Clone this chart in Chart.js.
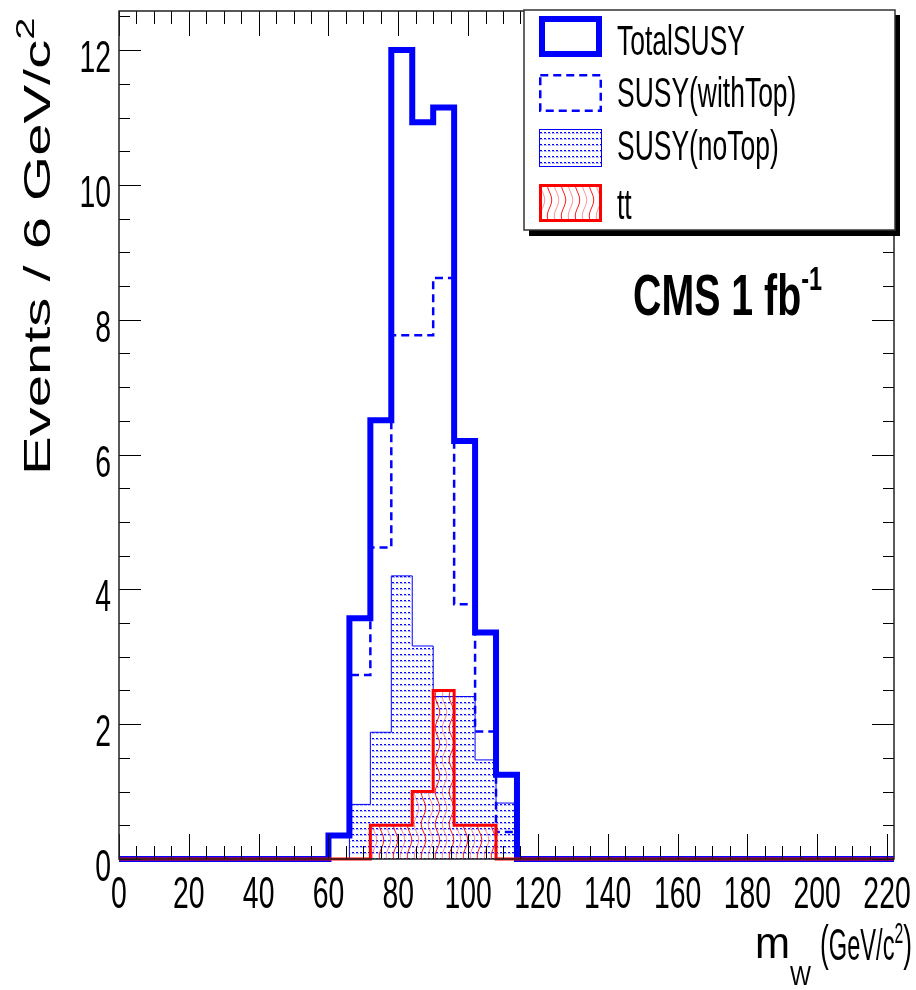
<!DOCTYPE html>
<html>
<head>
<meta charset="utf-8">
<title>m_W CMS 1 fb-1</title>
<script src="https://cdn.jsdelivr.net/npm/chart.js@4.4.1/dist/chart.umd.min.js"></script>
<style>
  html, body { margin: 0; padding: 0; background: #fff; }
  #wrap { position: relative; width: 916px; height: 990px; }
</style>
</head>
<body>
<div id="wrap"><canvas id="mwChart" width="916" height="990"></canvas></div>
<script>
// ── data: 6 GeV/c^2 bins, 0..222 ─────────────────────────────
const binWidth = 6;
const binLow = [0, 6, 12, 18, 24, 30, 36, 42, 48, 54, 60, 66, 72, 78, 84, 90, 96, 102, 108,
  114, 120, 126, 132, 138, 144, 150, 156, 162, 168, 174, 180, 186, 192, 198, 204, 210, 216];

const totalSusy = [0, 0, 0, 0, 0, 0, 0, 0, 0, 0,
  0.35, 3.57, 6.51, 12.0, 10.93, 11.15, 6.2, 3.36, 1.25,
  0, 0, 0, 0, 0, 0, 0, 0, 0, 0, 0, 0, 0, 0, 0, 0, 0, 0];
const susyWithTop = [0, 0, 0, 0, 0, 0, 0, 0, 0, 0,
  0.35, 2.73, 4.62, 7.77, 7.77, 8.62, 3.78, 1.89, 0.4,
  0, 0, 0, 0, 0, 0, 0, 0, 0, 0, 0, 0, 0, 0, 0, 0, 0, 0];
const susyNoTop = [0, 0, 0, 0, 0, 0, 0, 0, 0, 0,
  0, 0.81, 1.88, 4.2, 3.16, 2.41, 2.41, 1.47, 0.83,
  0, 0, 0, 0, 0, 0, 0, 0, 0, 0, 0, 0, 0, 0, 0, 0, 0, 0];
const ttbar = [0, 0, 0, 0, 0, 0, 0, 0, 0, 0,
  0, 0, 0.5, 0.5, 1.0, 2.5, 0.5, 0.5, 0,
  0, 0, 0, 0, 0, 0, 0, 0, 0, 0, 0, 0, 0, 0, 0, 0, 0, 0];

const xTickValues = [0, 20, 40, 60, 80, 100, 120, 140, 160, 180, 200, 220];
const xTickLabels = ['0', '20', '40', '60', '80', '100', '120', '140', '160', '180', '200', '220'];
const yTickValues = [0, 2, 4, 6, 8, 10, 12];
const yTickLabels = ['0', '2', '4', '6', '8', '10', '12'];

const FONT = '"Liberation Sans", Arial, Helvetica, sans-serif';
const BLUE = '#0000ff';
const RED = '#ff0000';

// step histogram: one point per low edge + closing point at the last high edge
function histPoints(vals) {
  const pts = vals.map((v, i) => ({ x: binLow[i], y: v }));
  pts.push({ x: binLow[binLow.length - 1] + binWidth, y: vals[vals.length - 1] });
  return pts;
}

// ── fill patterns (ROOT-ish hatches) ─────────────────────────
function dotPattern(ctx) {
  const c = document.createElement('canvas');
  c.width = 4; c.height = 6;
  const g = c.getContext('2d');
  g.fillStyle = BLUE;
  g.fillRect(0, 0, 2, 1);
  g.fillStyle = 'rgba(0,0,255,0.3)';
  g.fillRect(0, 1, 3, 1);
  return ctx.createPattern(c, 'repeat');
}
function wavePattern(ctx) {
  const c = document.createElement('canvas');
  c.width = 14; c.height = 32;
  const g = c.getContext('2d');
  g.lineWidth = 1;
  [[3.5, 'rgba(255,0,0,0.9)'], [10.5, 'rgba(255,60,60,0.55)']].forEach(([x0, col]) => {
    g.strokeStyle = col;
    g.beginPath();
    for (let y = 0; y <= 32; y++) {
      const x = x0 + 2.2 * Math.sin(2 * Math.PI * y / 32);
      if (y === 0) g.moveTo(x, y); else g.lineTo(x, y);
    }
    g.stroke();
  });
  return ctx.createPattern(c, 'repeat');
}

const canvas = document.getElementById('mwChart');
const ctx2d = canvas.getContext('2d');
const dots = dotPattern(ctx2d);
const waves = wavePattern(ctx2d);

// ── text helper: runs with sizes / offsets, squeezed like the original ──
function drawRuns(ctx, runs, x, y, opt) {
  opt = opt || {};
  const fontOf = r => (r.bold ? 'bold ' : '') + r.size + 'px ' + FONT;
  let w = 0;
  runs.forEach(r => { ctx.font = fontOf(r); r.w = ctx.measureText(r.t).width; w += r.w; });
  let sx = opt.sx || 1;
  if (opt.width) sx = opt.width / w;
  ctx.save();
  ctx.translate(x, y);
  if (opt.rotate) ctx.rotate(opt.rotate);
  ctx.scale(sx, opt.sy || 1);
  ctx.fillStyle = '#000';
  ctx.textAlign = 'left';
  ctx.textBaseline = 'alphabetic';
  let cx = opt.align === 'right' ? -w : (opt.align === 'center' ? -w / 2 : 0);
  runs.forEach(r => { ctx.font = fontOf(r); ctx.fillText(r.t, cx, r.dy || 0); cx += r.w; });
  ctx.restore();
}

// ── frame + inward ticks on all four sides ───────────────────
const framePlugin = {
  id: 'rootFrame',
  afterDatasetsDraw(chart) {
    const { ctx, chartArea: a, scales: { x, y } } = chart;
    ctx.save();
    ctx.strokeStyle = '#000';
    ctx.lineWidth = 1;
    ctx.beginPath();
    // x ticks: major every 20, minor every 5
    for (let v = 0; v <= x.max; v += 5) {
      const px = Math.round(x.getPixelForValue(v)) + 0.5;
      const len = xTickValues.includes(v) ? 25 : 13;
      ctx.moveTo(px, a.bottom); ctx.lineTo(px, a.bottom - len);
      ctx.moveTo(px, a.top); ctx.lineTo(px, a.top + len);
    }
    // y ticks: major every 2, minor every 0.5
    for (let v = 0; v <= y.max; v += 0.5) {
      const py = Math.round(y.getPixelForValue(v)) + 0.5;
      const len = yTickValues.includes(v) ? 22 : 11;
      ctx.moveTo(a.left, py); ctx.lineTo(a.left + len, py);
      ctx.moveTo(a.right, py); ctx.lineTo(a.right - len, py);
    }
    ctx.stroke();
    ctx.lineWidth = 1.5;
    ctx.strokeStyle = '#222';
    ctx.strokeRect(a.left, a.top, a.right - a.left, a.bottom - a.top);
    ctx.restore();
  }
};

// ── labels, titles, CMS tag, legend box ──────────────────────
const textPlugin = {
  id: 'rootText',
  afterDraw(chart) {
    const { ctx, scales: { x, y } } = chart;
    const ds = chart.data.datasets;

    xTickValues.forEach((v, i) => {
      drawRuns(ctx, [{ t: xTickLabels[i], size: 45 }], x.getPixelForValue(v), 908, { sx: 0.63, align: 'center' });
    });
    yTickValues.forEach((v, i) => {
      drawRuns(ctx, [{ t: yTickLabels[i], size: 45 }], 111, y.getPixelForValue(v) + 22, { sx: 0.63, align: 'right' });
    });

    // axis titles
    drawRuns(ctx, [{ t: 'm', size: 44 }], 755, 958, { width: 35 });
    drawRuns(ctx, [{ t: 'W', size: 28 }], 790, 985, { width: 21 });
    drawRuns(ctx, [
      { t: '(', size: 50 }, { t: 'GeV/c', size: 45 }, { t: '2', size: 30, dy: -17 }, { t: ')', size: 50 }
    ], 912, 960, { width: 92, align: 'right' });
    drawRuns(ctx, [
      { t: 'Events / 6 GeV/c', size: 58 }, { t: '2', size: 40, dy: -24 }
    ], 50, 475, { rotate: -Math.PI / 2, sy: 0.65 });

    // CMS tag
    drawRuns(ctx, [
      { t: 'CMS 1 fb', size: 57, bold: true }, { t: '-1', size: 34, bold: true, dy: -25 }
    ], 633, 315, { width: 189 });

    // legend
    ctx.save();
    ctx.fillStyle = '#000';
    ctx.fillRect(529, 15, 371, 221);
    ctx.fillStyle = '#fff';
    ctx.fillRect(524, 10, 371, 220);
    ctx.lineWidth = 1.5;
    ctx.strokeStyle = '#333';
    ctx.strokeRect(524, 10, 371, 220);

    const rows = [
      { y: 16, base: 55 }, { y: 74, base: 107 }, { y: 129, base: 160 }, { y: 184, base: 219 }
    ];
    ds.forEach((d, i) => {
      const r = rows[i];
      const bx = 539, bw = 63, bh = i === 0 ? 41 : 38;
      ctx.save();
      if (d.fill) {
        ctx.fillStyle = d.backgroundColor;
        ctx.fillRect(bx, r.y, bw, bh);
      }
      ctx.strokeStyle = d.borderColor;
      ctx.lineWidth = d.borderWidth;
      ctx.setLineDash(d.borderDash || []);
      const inset = d.borderWidth / 2;
      ctx.strokeRect(bx + inset, r.y + inset, bw - 2 * inset, bh - 2 * inset);
      ctx.restore();
      drawRuns(ctx, [{ t: d.label, size: 42 }], 617, r.base, { sx: 0.63 });
    });
    ctx.restore();
  }
};

// ── chart ───────────────────────────────────────────────────
new Chart(canvas, {
  type: 'line',
  data: {
    datasets: [
      {
        label: 'TotalSUSY',
        data: histPoints(totalSusy),
        borderColor: BLUE,
        borderWidth: 6,
        fill: false,
        order: 2
      },
      {
        label: 'SUSY(withTop)',
        data: histPoints(susyWithTop),
        borderColor: BLUE,
        borderWidth: 2.5,
        borderDash: [8, 5],
        fill: false,
        order: 1
      },
      {
        label: 'SUSY(noTop)',
        data: histPoints(susyNoTop),
        borderColor: BLUE,
        borderWidth: 1,
        backgroundColor: dots,
        fill: 'origin',
        order: 3
      },
      {
        label: 'tt',
        data: histPoints(ttbar),
        borderColor: RED,
        borderWidth: 3,
        backgroundColor: waves,
        fill: 'origin',
        order: 0
      }
    ]
  },
  options: {
    responsive: false,
    animation: false,
    layout: { padding: { left: 119, right: 22, top: 11, bottom: 131 } },
    elements: {
      line: { stepped: true, tension: 0, borderJoinStyle: 'miter', borderCapStyle: 'butt' },
      point: { radius: 0, hoverRadius: 0 }
    },
    datasets: { line: { clip: false } },
    plugins: {
      legend: { display: false },
      tooltip: { enabled: false }
    },
    scales: {
      x: { type: 'linear', min: 0, max: 222, display: false },
      y: { type: 'linear', min: 0, max: 12.58, display: false }
    }
  },
  plugins: [framePlugin, textPlugin]
});
</script>
</body>
</html>
